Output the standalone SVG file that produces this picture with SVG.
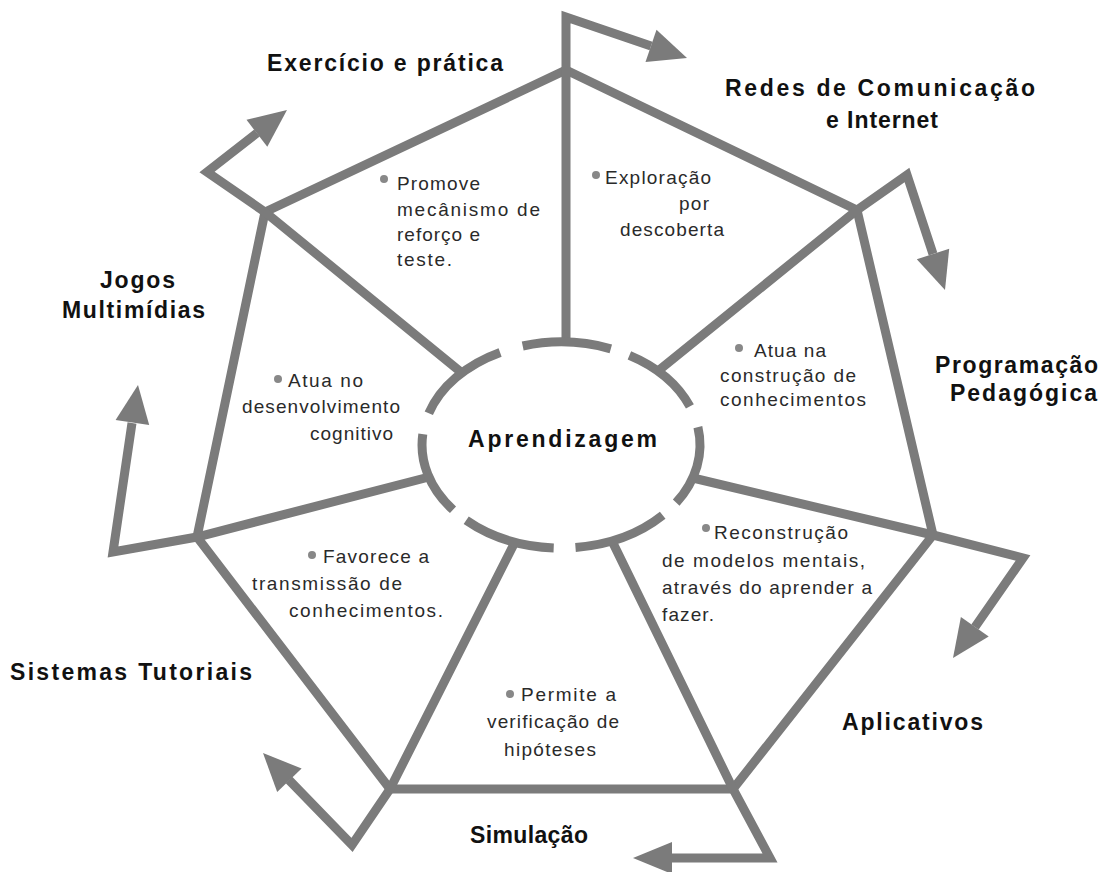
<svg xmlns="http://www.w3.org/2000/svg" width="1116" height="872" viewBox="0 0 1116 872">
<style>
.ln{fill:none;stroke:#7b7b7b;stroke-width:9;stroke-linejoin:miter;stroke-linecap:butt}
.hd{fill:#7b7b7b}
.lbl{font-family:"Liberation Sans",Arial,sans-serif;font-weight:bold;font-size:23px;fill:#111}
.txt{font-family:"Liberation Sans",Arial,sans-serif;font-size:19px;fill:#2a2a2a}
.bul{fill:#888}
</style>
<rect width="1116" height="872" fill="#fff"/>
<g id="connectors">
<polygon class="ln" points="566,70 857,210 933,535 733,789 390,789 197,537 265,212"/>
<polyline class="ln" points="566,342 566,17 651,46"/>
<polyline class="ln" points="658,371 857,210 907,175 933,254"/>
<polyline class="ln" points="693,478 933,535 1023,558 975,627"/>
<polyline class="ln" points="612,541 733,789 770,858 672,858"/>
<polyline class="ln" points="515,542 390,789 352,845 289,780"/>
<polyline class="ln" points="429,477 197,537 113,552 132,423"/>
<polyline class="ln" points="462,373 265,212 207,172 257,133"/>
<polygon class="hd" points="687,58 645.5,61.9 656.5,29.7"/>
<polygon class="hd" points="945,290 916.8,259.3 949.2,248.7"/>
<polygon class="hd" points="953,658 960.9,617 988.7,636.6"/>
<polygon class="hd" points="633,858 672,842 672,874"/>
<polygon class="hd" points="263,753 301.6,768.5 277.2,792.1"/>
<polygon class="hd" points="138,385 149.2,425.1 115.6,420.1"/>
<polygon class="hd" points="287,110 267.3,146.8 246.5,119.8"/>
</g>
<g id="node-aprendizagem">
<path class="ln" d="M522.7,346 A139,103 0 0 1 610.8,348.8"/>
<path class="ln" d="M629.4,355.3 A139,103 0 0 1 689.9,406.4"/>
<path class="ln" d="M697.9,427.1 A139,103 0 0 1 676.2,502.6"/>
<path class="ln" d="M662.7,515.2 A139,103 0 0 1 575.5,547.4"/>
<path class="ln" d="M553.7,547.9 A139,103 0 0 1 466.2,520.3"/>
<path class="ln" d="M453,509.8 A139,103 0 0 1 422.8,434.2"/>
<path class="ln" d="M428.8,413.2 A139,103 0 0 1 500.1,352.4"/>
<text class="lbl" x="468" y="447" textLength="189" lengthAdjust="spacing">Aprendizagem</text>
</g>
<g id="node-exercicio">
<text class="lbl" x="267" y="71" textLength="236" lengthAdjust="spacing">Exercício e prática</text>
<circle class="bul" cx="384" cy="179" r="4"/>
<text class="txt" x="397" y="190" textLength="83" lengthAdjust="spacing">Promove</text>
<text class="txt" x="397" y="216" textLength="143" lengthAdjust="spacing">mecânismo de</text>
<text class="txt" x="397" y="241" textLength="83" lengthAdjust="spacing">reforço e</text>
<text class="txt" x="397" y="266" textLength="55" lengthAdjust="spacing">teste.</text>
</g>
<g id="node-redes">
<text class="lbl" x="725" y="96" textLength="310" lengthAdjust="spacing">Redes de Comunicação</text>
<text class="lbl" x="826" y="128" textLength="112" lengthAdjust="spacing">e Internet</text>
<circle class="bul" cx="596" cy="175" r="4"/>
<text class="txt" x="605" y="184" textLength="106" lengthAdjust="spacing">Exploração</text>
<text class="txt" x="679" y="210" textLength="30" lengthAdjust="spacing">por</text>
<text class="txt" x="620" y="236" textLength="104" lengthAdjust="spacing">descoberta</text>
</g>
<g id="node-programacao">
<text class="lbl" x="935" y="373" textLength="163" lengthAdjust="spacing">Programação</text>
<text class="lbl" x="950" y="401" textLength="147" lengthAdjust="spacing">Pedagógica</text>
<circle class="bul" cx="739" cy="348" r="4"/>
<text class="txt" x="754" y="357" textLength="72" lengthAdjust="spacing">Atua na</text>
<text class="txt" x="720" y="382" textLength="136" lengthAdjust="spacing">construção de</text>
<text class="txt" x="720" y="406" textLength="146" lengthAdjust="spacing">conhecimentos</text>
</g>
<g id="node-aplicativos">
<text class="lbl" x="842" y="730" textLength="141" lengthAdjust="spacing">Aplicativos</text>
<circle class="bul" cx="706" cy="528" r="4"/>
<text class="txt" x="714" y="539" textLength="134" lengthAdjust="spacing">Reconstrução</text>
<text class="txt" x="662" y="567" textLength="203" lengthAdjust="spacing">de modelos mentais,</text>
<text class="txt" x="662" y="594" textLength="210" lengthAdjust="spacing">através do aprender a</text>
<text class="txt" x="662" y="621" textLength="52" lengthAdjust="spacing">fazer.</text>
</g>
<g id="node-simulacao">
<text class="lbl" x="470" y="843" textLength="118" lengthAdjust="spacing">Simulação</text>
<circle class="bul" cx="510" cy="694" r="4"/>
<text class="txt" x="521" y="701" textLength="95" lengthAdjust="spacing">Permite a</text>
<text class="txt" x="487" y="728" textLength="132" lengthAdjust="spacing">verificação de</text>
<text class="txt" x="504" y="756" textLength="92" lengthAdjust="spacing">hipóteses</text>
</g>
<g id="node-tutoriais">
<text class="lbl" x="10" y="680" textLength="242" lengthAdjust="spacing">Sistemas Tutoriais</text>
<circle class="bul" cx="312" cy="555" r="4"/>
<text class="txt" x="323" y="563" textLength="106" lengthAdjust="spacing">Favorece a</text>
<text class="txt" x="252" y="590" textLength="150" lengthAdjust="spacing">transmissão de</text>
<text class="txt" x="289" y="617" textLength="154" lengthAdjust="spacing">conhecimentos.</text>
</g>
<g id="node-jogos">
<text class="lbl" x="100" y="288" textLength="75" lengthAdjust="spacing">Jogos</text>
<text class="lbl" x="62" y="318" textLength="143" lengthAdjust="spacing">Multimídias</text>
<circle class="bul" cx="278" cy="379" r="4"/>
<text class="txt" x="288" y="387" textLength="75" lengthAdjust="spacing">Atua no</text>
<text class="txt" x="242" y="413" textLength="158" lengthAdjust="spacing">desenvolvimento</text>
<text class="txt" x="310" y="440" textLength="83" lengthAdjust="spacing">cognitivo</text>
</g>
</svg>
